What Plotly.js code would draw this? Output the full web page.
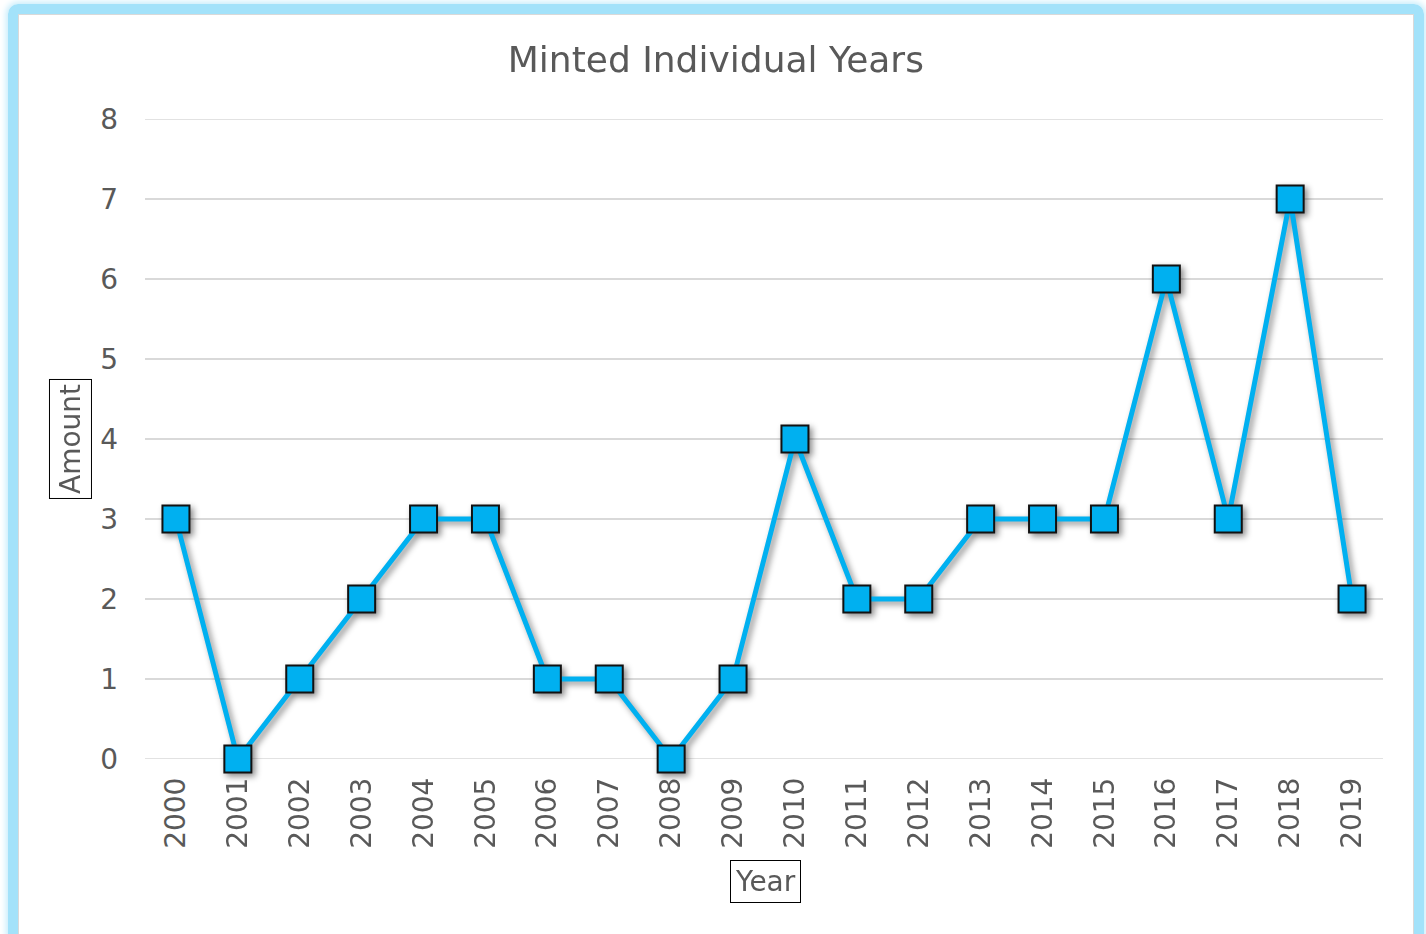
<!DOCTYPE html>
<html>
<head>
<meta charset="utf-8">
<script src="https://cdn.plot.ly/plotly-3.0.1.min.js"></script>
<style>
html,body{margin:0;padding:0;background:#fff;width:1426px;height:934px;overflow:hidden;}
#frame{position:absolute;left:8px;top:4px;width:1396px;height:960px;border:10px solid #a3e2fa;border-radius:10px;box-shadow:0 0 6px 2px #c5ecfb;}
#inner{position:absolute;left:0;top:0;right:0;bottom:0;border:1px solid #d9d9d9;background:#fff;}
#chart{position:absolute;left:0;top:0;width:1426px;height:934px;}
#chart .scatterlayer .trace{filter:drop-shadow(3px 3px 3px rgba(0,0,0,0.45));}
</style>
</head>
<body>
<div id="frame"><div id="inner"></div></div>
<div id="chart"></div>
<script>
const years = ['2000','2001','2002','2003','2004','2005','2006','2007','2008','2009','2010','2011','2012','2013','2014','2015','2016','2017','2018','2019'];
const amounts = [3,0,1,2,3,3,1,1,0,1,4,2,2,3,3,3,6,3,7,2];
const yTicks = [0,1,2,3,4,5,6,7,8];

const fontFam = '"DejaVu Sans", "Noto Sans", sans-serif';
const trace = {
  x: years, y: amounts, type: 'scatter', mode: 'lines+markers', cliponaxis: false,
  line: {color: '#00b0f0', width: 5},
  marker: {symbol: 'square', size: 27, color: '#00b0f0', line: {color: '#111111', width: 2}},
  hoverinfo: 'x+y'
};
const layout = {
  width: 1426, height: 934,
  paper_bgcolor: 'rgba(0,0,0,0)', plot_bgcolor: 'rgba(0,0,0,0)',
  margin: {l: 145, r: 43, t: 119, b: 175},
  showlegend: false,
  title: {text: 'Minted Individual Years', x: 0.502, xanchor: 'center', y: 0.936, yanchor: 'middle',
          font: {family: fontFam, size: 36, color: '#595959'}},
  xaxis: {type: 'category', range: [-0.5, 19.5], tickangle: -90, showgrid: false, zeroline: false,
          showline: false, ticks: '', ticklabelstandoff: 12,
          tickfont: {family: fontFam, size: 28, color: '#595959'}},
  yaxis: {range: [0, 8], tickvals: yTicks, ticktext: yTicks.map(String), showgrid: true, gridcolor: '#d9d9d9', gridwidth: 1.5,
          zeroline: false, showline: false, ticks: '', ticklabelstandoff: 26,
          tickfont: {family: fontFam, size: 28, color: '#595959'}},
  shapes: [
    {type: 'line', xref: 'paper', yref: 'y', x0: 0, x1: 1, y0: 0, y1: 0, line: {color: '#d9d9d9', width: 1.5}, layer: 'below'},
    {type: 'line', xref: 'paper', yref: 'y', x0: 0, x1: 1, y0: 8, y1: 8, line: {color: '#d9d9d9', width: 1.5}, layer: 'below'}
  ],
  annotations: [
    {text: 'Amount', xref: 'paper', yref: 'paper', x: -0.0606, y: 0.5, xanchor: 'center', yanchor: 'middle',
     textangle: -90, showarrow: false, bordercolor: '#000', borderwidth: 1, borderpad: 4,
     font: {family: fontFam, size: 28, color: '#595959'}},
    {text: 'Year', xref: 'paper', yref: 'paper', x: 0.501, y: -0.192, xanchor: 'center', yanchor: 'middle',
     showarrow: false, bordercolor: '#000', borderwidth: 1, borderpad: 4,
     font: {family: fontFam, size: 28, color: '#595959'}}
  ]
};
Plotly.newPlot('chart', [trace], layout, {displayModeBar: false, staticPlot: true});
</script>
</body>
</html>
